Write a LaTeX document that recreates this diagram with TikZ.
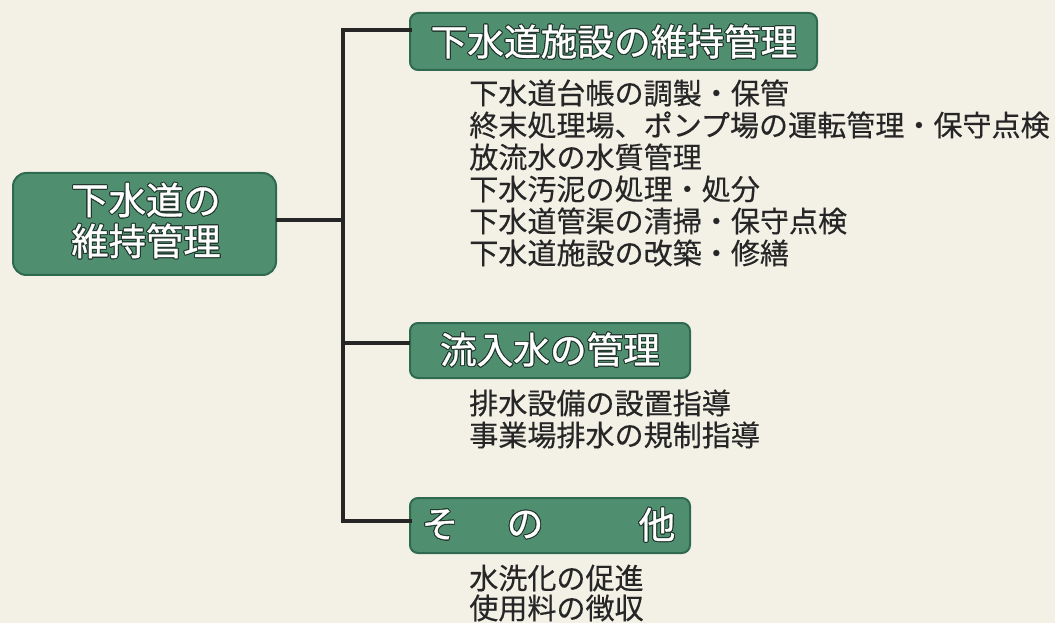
\documentclass[tikz,border=0pt]{standalone}
\usepackage{fontspec}
\setmainfont{Noto Sans CJK JP}
\newfontfamily\jp[FakeBold=0.35]{Noto Sans CJK JP}
\newfontfamily\jph[FakeBold=0.9]{Noto Sans CJK JP}
\usepackage{contour}
\contourlength{0.7pt}
\contournumber{24}
\definecolor{paper}{HTML}{F3F1E6}
\definecolor{boxfill}{HTML}{4F8F70}
\definecolor{boxedge}{HTML}{2F6A50}
\definecolor{ink}{HTML}{262626}
\definecolor{txtedge}{HTML}{23382E}
\tikzset{
  headbox/.style={draw=boxedge, line width=1.5pt, fill=boxfill, rounded corners=6pt},
  headtext/.style={text=white, font=\jph\fontsize{27.5}{31}\selectfont, inner sep=0pt},
  itemtext/.style={text=ink, font=\jp\fontsize{21.8}{24}\selectfont, anchor=west, inner sep=0pt},
  link/.style={draw=ink, line width=2.4pt}
}
\newcommand{\wt}[1]{\contour{txtedge}{#1}}
\begin{document}
\begin{tikzpicture}[x=0.75pt,y=-0.75pt]
\fill[paper] (0,0) rectangle (1055,623);
\useasboundingbox (0,0) rectangle (1055,623);
% left box
\path[headbox, rounded corners=10pt] (13,173) rectangle (276,275);
\coordinate (rootE) at (276,220);
\node[headtext, align=center, font=\jph\fontsize{28}{30.75}\selectfont] (roottxt) at (146,221) {\wt{下水道の}\\\wt{維持管理}};
% right boxes
\path[headbox] (410,13) rectangle (817,70);
\coordinate (b1W) at (410,30);
\node[headtext, anchor=center] (b1) at (614,42) {\wt{下水道施設の維持管理}};
\path[headbox] (410,323) rectangle (690,378);
\coordinate (b2W) at (410,343);
\node[headtext] (b2) at (550,350) {\wt{流入水の管理}};
\path[headbox] (410,498) rectangle (690,553);
\coordinate (b3W) at (410,521);
\node[headtext] (b3a) at (440,525) {\wt{そ}};
\node[headtext] (b3b) at (525,525) {\wt{の}};
\node[headtext] (b3c) at (657,525) {\wt{他}};
% connectors
\coordinate (j0) at (343,220);
\coordinate (j1) at (343,30);
\coordinate (j2) at (343,343);
\coordinate (j3) at (343,521);
\draw[link] (rootE) -- (j0);
\draw[link, line cap=rect] (b1W) -- (j1) -- (j3) -- (b3W);
\draw[link] (j2) -- (b2W);
% items
\node[itemtext] (i1) at (469,93) {下水道台帳の調製・保管};
\node[itemtext] (i2) at (469,125) {終末処理場、ポンプ場の運転管理・保守点検};
\node[itemtext] (i3) at (469,157) {放流水の水質管理};
\node[itemtext] (i4) at (469,189) {下水汚泥の処理・処分};
\node[itemtext] (i5) at (469,221) {下水道管渠の清掃・保守点検};
\node[itemtext] (i6) at (469,253) {下水道施設の改築・修繕};
\node[itemtext] (i7) at (469,403) {排水設備の設置指導};
\node[itemtext] (i8) at (469,435) {事業場排水の規制指導};
\node[itemtext] (i9) at (469,578) {水洗化の促進};
\node[itemtext] (i10) at (469,608) {使用料の徴収};
\end{tikzpicture}
\end{document}
